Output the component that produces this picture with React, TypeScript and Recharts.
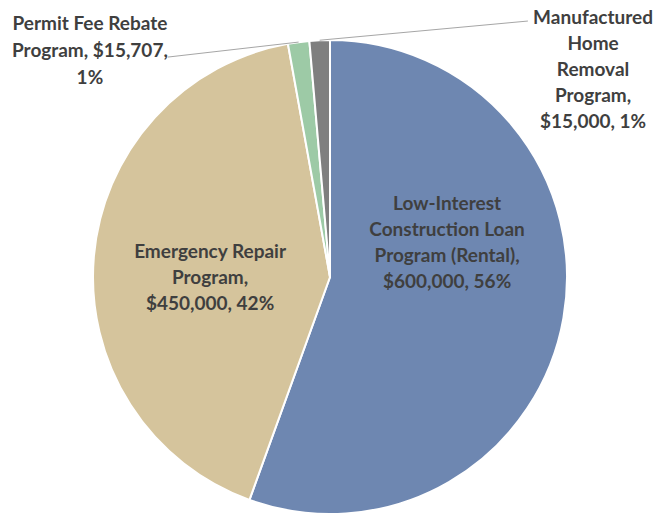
import React from 'react';
import { PieChart, Pie, Cell } from 'recharts';

const programs = [
  'Low-Interest Construction Loan Program (Rental)',
  'Emergency Repair Program',
  'Permit Fee Rebate Program',
  'Manufactured Home Removal Program',
];
const amounts = [600000, 450000, 15707, 15000];
const percents = ['56%', '42%', '1%', '1%'];
const labelLines = [
  ['Low-Interest', 'Construction Loan', 'Program (Rental),', '$600,000, 56%'],
  ['Emergency Repair', 'Program,', '$450,000, 42%'],
  ['Permit Fee Rebate', 'Program, $15,707,', '1%'],
  ['Manufactured', 'Home', 'Removal', 'Program,', '$15,000, 1%'],
];
const colors = ['#6E87B1', '#D5C49C', '#9DCAA6', '#7F7F7F'];

const data = programs.map((name, i) => ({ name, value: amounts[i], pct: percents[i] }));

// label block placement, in units of the outer radius from the centre
const labelPos = [
  { x: 0.494, y: -0.154, lh: 26 },
  { x: -0.506, y: -0.004, lh: 26 },
  { x: -1.013, y: -0.962, lh: 27 },
  { x: 1.11, y: -0.882, lh: 26 },
];
// leader line end points (outer labels only)
const leaderEnd: Record<number, { x: number; y: number }> = {
  2: { x: -0.684, y: -0.928 },
  3: { x: 0.835, y: -1.08 },
};

const RAD = Math.PI / 180;

function renderLabel(props: any) {
  const { cx, cy, outerRadius, midAngle, index } = props;
  const p = labelPos[index];
  const lines = labelLines[index];
  const x = cx + p.x * outerRadius;
  const yc = cy + p.y * outerRadius;
  const y0 = yc - ((lines.length - 1) * p.lh) / 2;
  const end = leaderEnd[index];
  let leader = null;
  if (end) {
    const sx = cx + outerRadius * Math.cos(-midAngle * RAD);
    const sy = cy + outerRadius * Math.sin(-midAngle * RAD);
    leader = (
      <line
        x1={sx}
        y1={sy}
        x2={cx + end.x * outerRadius}
        y2={cy + end.y * outerRadius}
        stroke="#A6A6A6"
        strokeWidth={1}
      />
    );
  }
  return (
    <g key={`lbl-${index}`}>
      {leader}
      <text
        x={x}
        y={y0}
        textAnchor="middle"
        dominantBaseline="central"
        fill="#3F3F3F"
        fontFamily="Lato, 'Open Sans', sans-serif"
        fontWeight="bold"
        fontSize={19}
      >
        {lines.map((l, i) => (
          <tspan key={i} x={x} y={y0 + i * p.lh} dominantBaseline="central">
            {l}
          </tspan>
        ))}
      </text>
    </g>
  );
}

export default function App() {
  return (
    <div style={{ position: 'absolute', left: 0, top: 0, width: 658, height: 514, background: '#fff' }}>
      <PieChart width={658} height={514} margin={{ top: 0, right: 0, bottom: 0, left: 0 }}>
        <Pie
          data={data}
          dataKey="value"
          nameKey="name"
          cx={330}
          cy={277}
          outerRadius={237}
          startAngle={90}
          endAngle={-270}
          stroke="#FFFFFF"
          strokeWidth={2}
          label={renderLabel}
          labelLine={false}
          isAnimationActive={false}
        >
          {data.map((d, i) => (
            <Cell key={d.name} fill={colors[i]} />
          ))}
        </Pie>
      </PieChart>
    </div>
  );
}
